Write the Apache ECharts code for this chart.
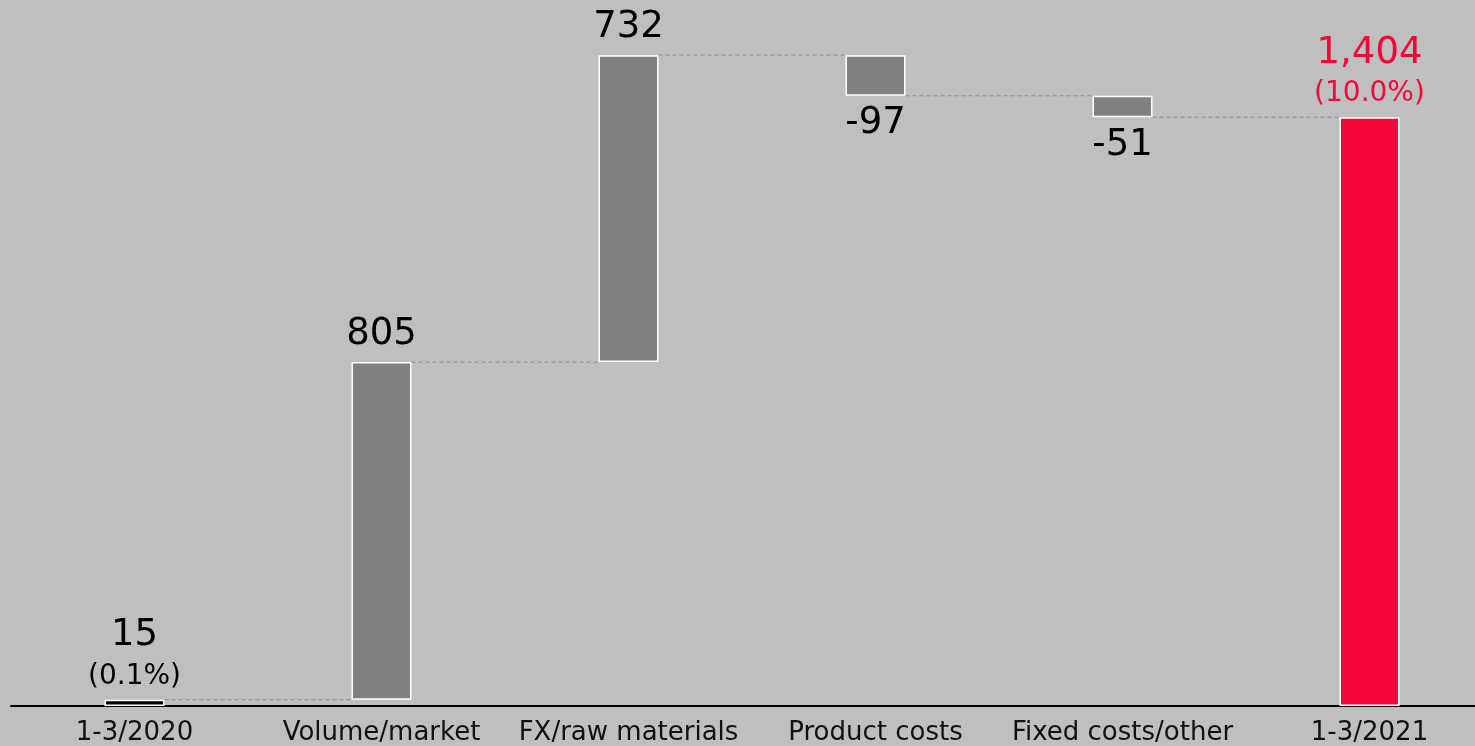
<!DOCTYPE html>
<html>
<head>
<meta charset="utf-8">
<script src="https://cdn.jsdelivr.net/npm/echarts@6/dist/echarts.min.js"></script>
<style>
  html, body { margin: 0; padding: 0; background: #bfbfbf; overflow: hidden; }
  #chart { width: 1500px; height: 746px; }
</style>
</head>
<body>
<div id="chart"></div>
<script>
// Operating profit bridge, 1-3/2020 to 1-3/2021
const categories = ['1-3/2020', 'Volume/market', 'FX/raw materials', 'Product costs', 'Fixed costs/other', '1-3/2021'];
const values = [15, 805, 732, -97, -51, 1404];
const isTotal = [true, false, false, false, false, true];
const margins = ['0.1%', null, null, null, null, '10.0%'];

const GREY = '#808080';
const RED = '#f50537';
const BAR_W = 60;

// Derive invisible base and visible height for each step of the bridge
const base = [], height = [], levels = [];
let running = 0;
values.forEach((v, i) => {
  if (isTotal[i]) {
    base.push(0);
    height.push(v);
    running = v;
  } else {
    const next = running + v;
    base.push(Math.min(running, next));
    height.push(Math.abs(v));
    running = next;
  }
  levels.push(running);
});

const fmt = v => v.toLocaleString('en-US');

const visibleData = height.map((h, i) => {
  const v = values[i];
  let color = GREY, textColor = '#000';
  if (isTotal[i]) {
    color = i === 0 ? '#000' : RED;
    textColor = i === 0 ? '#000' : RED;
  }
  const text = margins[i] ? '{v|' + fmt(v) + '}\n{p|(' + margins[i] + ')}' : '{v|' + fmt(v) + '}';
  return {
    value: h,
    itemStyle: { color: color },
    label: {
      show: true,
      position: v < 0 ? 'bottom' : 'top',
      distance: 5,
      formatter: text,
      rich: {
        v: { fontSize: 37, color: textColor, fontFamily: 'DejaVu Sans', lineHeight: 46 },
        p: { fontSize: 28, color: textColor, fontFamily: 'DejaVu Sans', lineHeight: 36 }
      }
    }
  };
});

const chart = echarts.init(document.getElementById('chart'));
chart.setOption({
  backgroundColor: '#bfbfbf',
  animation: false,
  grid: { left: 11, right: 7, top: 35, bottom: 38 },
  xAxis: {
    type: 'category',
    data: categories,
    axisLine: { lineStyle: { color: '#000', width: 2 } },
    axisTick: { show: false },
    axisLabel: { color: '#111', fontSize: 26, fontFamily: 'DejaVu Sans', margin: 14, interval: 0 }
  },
  yAxis: {
    type: 'value',
    min: 0,
    max: 1600,
    show: false,
    splitLine: { show: false }
  },
  series: [
    {
      type: 'bar',
      stack: 'bridge',
      barWidth: BAR_W,
      itemStyle: { color: 'transparent' },
      emphasis: { disabled: true },
      data: base
    },
    {
      type: 'bar',
      stack: 'bridge',
      barWidth: BAR_W,
      itemStyle: { borderColor: '#fff', borderWidth: 1.5 },
      emphasis: { disabled: true },
      data: visibleData
    },
    {
      // dashed connectors between neighbouring bars
      type: 'custom',
      silent: true,
      z: 1,
      data: levels.slice(0, -1).map((lv, i) => [i, lv]),
      renderItem: function (params, api) {
        const i = api.value(0);
        const lv = api.value(1);
        const p1 = api.coord([i, lv]);
        const p2 = api.coord([i + 1, lv]);
        return {
          type: 'line',
          shape: { x1: p1[0] + BAR_W / 2, y1: p1[1], x2: p2[0] - BAR_W / 2, y2: p2[1] },
          style: { stroke: '#8c8c8c', lineWidth: 1, lineDash: [4, 3] }
        };
      }
    }
  ]
});
</script>
</body>
</html>
